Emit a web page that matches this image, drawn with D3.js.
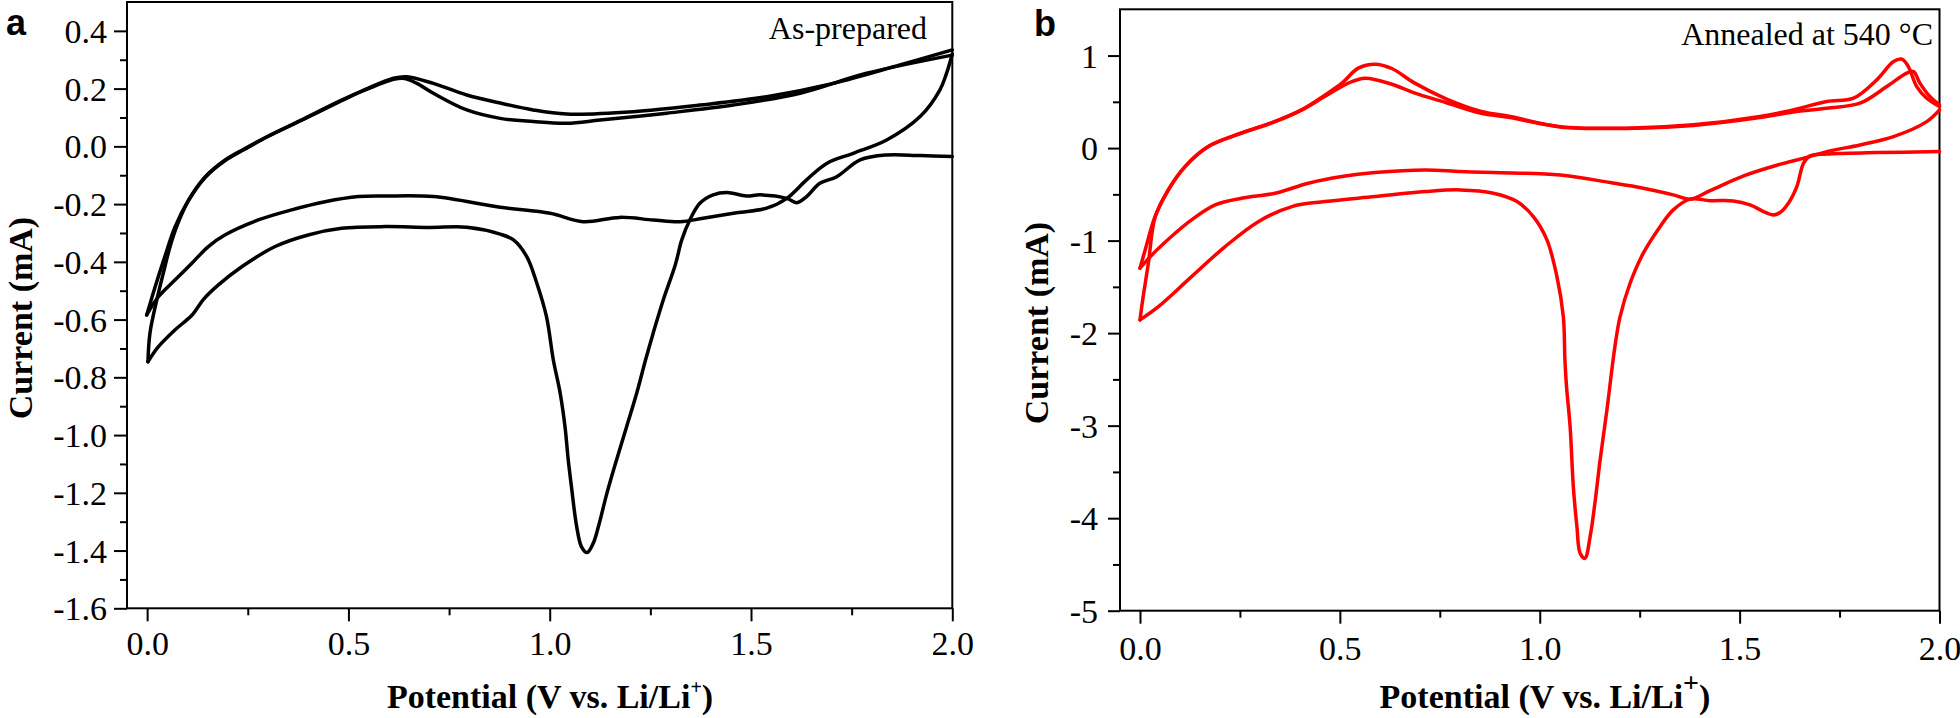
<!DOCTYPE html>
<html>
<head>
<meta charset="utf-8">
<script src="https://cdn.jsdelivr.net/npm/d3@7"></script>
<style>
  html, body { margin: 0; padding: 0; background: #fff; }
  svg { display: block; }
</style>
</head>
<body>
<svg id="chart" width="1960" height="718"></svg>
<script>
// ---------------- DATA (Potential V vs. Li/Li+, Current mA) ----------------
// Panel a : As-prepared
const aCathodic1 = [[2.0,-0.035],[1.92,-0.032],[1.837,-0.030],[1.771,-0.047],[1.713,-0.105],[1.671,-0.128],[1.638,-0.174],[1.614,-0.195],[1.589,-0.180],[1.523,-0.168],[1.489,-0.172],[1.440,-0.160],[1.406,-0.168],[1.373,-0.197],[1.348,-0.255],[1.328,-0.324],[1.312,-0.410],[1.282,-0.532],[1.257,-0.647],[1.238,-0.740],[1.216,-0.855],[1.191,-0.971],[1.166,-1.086],[1.142,-1.202],[1.121,-1.317],[1.108,-1.375],[1.093,-1.407],[1.079,-1.387],[1.067,-1.317],[1.054,-1.179],[1.046,-1.086],[1.038,-0.971],[1.026,-0.855],[1.009,-0.740],[0.992,-0.590],[0.968,-0.474],[0.943,-0.382],[0.910,-0.324],[0.877,-0.304],[0.794,-0.280],[0.70,-0.281],[0.591,-0.278],[0.483,-0.284],[0.400,-0.307],[0.318,-0.347],[0.235,-0.417],[0.177,-0.480],[0.140,-0.530],[0.111,-0.585],[0.069,-0.636],[0.028,-0.694],[0.002,-0.746]];
const aAnodic1 = [[0.002,-0.746],[0.007,-0.647],[0.024,-0.532],[0.040,-0.440],[0.057,-0.347],[0.075,-0.272],[0.102,-0.190],[0.144,-0.108],[0.193,-0.050],[0.240,-0.012],[0.300,0.034],[0.380,0.088],[0.483,0.158],[0.545,0.199],[0.612,0.236],[0.645,0.241],[0.711,0.218],[0.794,0.178],[0.877,0.150],[0.959,0.126],[1.042,0.112],[1.208,0.120],[1.373,0.143],[1.539,0.172],[1.704,0.218],[1.870,0.282],[2.0,0.334]];
const aCathodic2 = [[2.0,0.320],[1.985,0.250],[1.969,0.195],[1.920,0.103],[1.837,0.022],[1.754,-0.024],[1.688,-0.059],[1.638,-0.116],[1.589,-0.180],[1.539,-0.214],[1.464,-0.230],[1.381,-0.249],[1.324,-0.261],[1.257,-0.255],[1.174,-0.246],[1.083,-0.261],[1.001,-0.232],[0.877,-0.211],[0.711,-0.174],[0.591,-0.172],[0.525,-0.174],[0.442,-0.192],[0.359,-0.220],[0.276,-0.255],[0.193,-0.307],[0.152,-0.347],[0.111,-0.405],[0.069,-0.463],[0.028,-0.521],[-0.001,-0.584]];
const aAnodic2 = [[-0.001,-0.584],[0.020,-0.486],[0.044,-0.382],[0.069,-0.280],[0.102,-0.188],[0.144,-0.106],[0.193,-0.048],[0.240,-0.010],[0.300,0.035],[0.380,0.089],[0.483,0.160],[0.545,0.197],[0.612,0.232],[0.640,0.235],[0.670,0.218],[0.711,0.184],[0.794,0.126],[0.877,0.097],[0.959,0.086],[1.042,0.080],[1.125,0.091],[1.291,0.115],[1.456,0.143],[1.622,0.184],[1.787,0.253],[2.0,0.316]];

// Panel b : Annealed at 540 °C
const bCathodic1 = [[2.0,-0.038],[1.843,-0.049],[1.718,-0.063],[1.676,-0.084],[1.660,-0.163],[1.643,-0.416],[1.622,-0.596],[1.601,-0.697],[1.585,-0.722],[1.560,-0.686],[1.526,-0.614],[1.484,-0.571],[1.426,-0.568],[1.376,-0.552],[1.334,-0.668],[1.301,-0.849],[1.259,-1.136],[1.226,-1.461],[1.201,-1.822],[1.188,-2.146],[1.168,-2.830],[1.151,-3.371],[1.139,-3.803],[1.126,-4.200],[1.113,-4.434],[1.101,-4.379],[1.093,-4.092],[1.084,-3.659],[1.076,-3.011],[1.067,-2.578],[1.063,-2.289],[1.059,-1.822],[1.043,-1.389],[1.018,-0.992],[0.984,-0.740],[0.943,-0.578],[0.884,-0.488],[0.801,-0.452],[0.713,-0.470],[0.588,-0.524],[0.463,-0.578],[0.380,-0.632],[0.296,-0.795],[0.213,-1.065],[0.129,-1.389],[0.046,-1.714],[0.0,-1.857]];
const bAnodic1 = [[0.0,-1.857],[0.008,-1.605],[0.021,-1.244],[0.038,-0.745],[0.071,-0.452],[0.113,-0.200],[0.171,0.016],[0.254,0.161],[0.338,0.286],[0.404,0.413],[0.463,0.575],[0.505,0.702],[0.546,0.864],[0.588,0.907],[0.630,0.860],[0.684,0.710],[0.767,0.530],[0.851,0.400],[0.926,0.341],[1.051,0.232],[1.218,0.215],[1.384,0.251],[1.551,0.341],[1.634,0.413],[1.718,0.503],[1.785,0.539],[1.843,0.737],[1.885,0.935],[1.906,0.961],[1.922,0.881],[1.943,0.665],[1.968,0.539],[2.0,0.449]];
const bCathodic2 = [[2.0,0.413],[1.968,0.286],[1.885,0.124],[1.801,0.034],[1.718,-0.038],[1.668,-0.100],[1.593,-0.185],[1.510,-0.300],[1.426,-0.460],[1.376,-0.552],[1.334,-0.506],[1.259,-0.434],[1.176,-0.373],[1.051,-0.290],[0.884,-0.265],[0.801,-0.254],[0.713,-0.236],[0.588,-0.265],[0.505,-0.308],[0.421,-0.380],[0.338,-0.488],[0.254,-0.542],[0.188,-0.614],[0.129,-0.776],[0.088,-0.920],[0.038,-1.119],[0.0,-1.298]];
const bAnodic2 = [[0.0,-1.298],[0.013,-1.100],[0.038,-0.735],[0.071,-0.450],[0.113,-0.198],[0.171,0.018],[0.254,0.163],[0.338,0.288],[0.404,0.410],[0.463,0.560],[0.520,0.700],[0.563,0.756],[0.630,0.690],[0.684,0.600],[0.767,0.490],[0.851,0.380],[0.926,0.330],[1.051,0.228],[1.218,0.212],[1.384,0.245],[1.551,0.330],[1.634,0.390],[1.718,0.431],[1.801,0.485],[1.868,0.665],[1.918,0.810],[1.935,0.827],[1.951,0.702],[1.976,0.557],[2.0,0.467]];

// Tick values
const xTicks = [0.0, 0.5, 1.0, 1.5, 2.0];
const xMinorTicks = [0.25, 0.75, 1.25, 1.75];
const aYTicks = [0.4, 0.2, 0.0, -0.2, -0.4, -0.6, -0.8, -1.0, -1.2, -1.4, -1.6];
const aYMinorTicks = [0.3, 0.1, -0.1, -0.3, -0.5, -0.7, -0.9, -1.1, -1.3, -1.5];
const bYTicks = [1, 0, -1, -2, -3, -4, -5];
const bYMinorTicks = [0.5, -0.5, -1.5, -2.5, -3.5, -4.5];

// ---------------- DRAWING ----------------
const svg = d3.select("#chart");
svg.append("rect").attr("width", 1960).attr("height", 718).attr("fill", "#fff");

const SERIF = "'Liberation Serif', 'Times New Roman', serif";
const SANS = "'Liberation Sans', Arial, sans-serif";

function panel(cfg) {
  const g = svg.append("g");
  const x = d3.scaleLinear().domain(cfg.xDomain).range(cfg.xRange);
  const y = d3.scaleLinear().domain(cfg.yDomain).range(cfg.yRange);
  const [x0, x1] = cfg.xRange;
  const [yb, yt] = cfg.yRange;

  // frame
  g.append("rect").attr("x", x0).attr("y", yt).attr("width", x1 - x0).attr("height", yb - yt)
    .attr("fill", "none").attr("stroke", "#000").attr("stroke-width", 2);

  // curves
  const line = d3.line().x(d => x(d[0])).y(d => y(d[1])).curve(d3.curveCatmullRom.alpha(0.5));
  cfg.series.forEach(s => {
    g.append("path").datum(s).attr("d", line).attr("fill", "none")
      .attr("stroke", cfg.color).attr("stroke-width", 3.5)
      .attr("stroke-linejoin", "round").attr("stroke-linecap", "round");
  });

  // axes
  const xAxis = g.append("g").attr("transform", `translate(0,${yb})`)
    .call(d3.axisBottom(x).tickValues(xTicks).tickSize(13).tickPadding(cfg.xPad)
      .tickFormat(d => d.toFixed(1)));
  const xMinor = g.append("g").attr("transform", `translate(0,${yb})`)
    .call(d3.axisBottom(x).tickValues(xMinorTicks).tickSize(7).tickFormat(""));
  const yAxis = g.append("g").attr("transform", `translate(${x0},0)`)
    .call(d3.axisLeft(y).tickValues(cfg.yTicks).tickSize(cfg.yTick).tickPadding(cfg.yPad)
      .tickFormat(cfg.yFmt));
  const yMinor = g.append("g").attr("transform", `translate(${x0},0)`)
    .call(d3.axisLeft(y).tickValues(cfg.yMinor).tickSize(7).tickFormat(""));

  [xAxis, xMinor, yAxis, yMinor].forEach(a => {
    a.select(".domain").remove();
    a.selectAll(".tick line").attr("stroke", "#000").attr("stroke-width", 2);
    a.selectAll("text").attr("font-family", SERIF).attr("font-size", 34).attr("fill", "#000");
  });
  xAxis.selectAll("text").attr("dy", "0.71em");
  yAxis.selectAll("text").attr("dy", "0.34em");

  // axis titles
  const xt = g.append("text").attr("x", cfg.xTitleX).attr("y", 708)
    .attr("text-anchor", "middle").attr("font-family", SERIF).attr("font-weight", "bold")
    .attr("font-size", 34).attr("fill", "#000");
  xt.append("tspan").text("Potential (V vs. Li/Li");
  xt.append("tspan").attr("font-size", cfg.supSize).attr("dy", cfg.supDy).text("+");
  xt.append("tspan").attr("dy", -cfg.supDy).text(")");

  g.append("text").attr("transform", `translate(${cfg.yTitleX},${cfg.yTitleY}) rotate(-90)`)
    .attr("text-anchor", "middle").attr("font-family", SERIF).attr("font-weight", "bold")
    .attr("font-size", 34).attr("fill", "#000").text("Current (mA)");

  // panel letter
  g.append("text").attr("x", cfg.letterX).attr("y", cfg.letterY)
    .attr("font-family", SANS).attr("font-weight", "bold").attr("font-size", 36)
    .attr("fill", "#000").text(cfg.letter);

  // annotation
  g.append("text").attr("x", cfg.noteX).attr("y", cfg.noteY).attr("text-anchor", "end")
    .attr("font-family", SERIF).attr("font-size", 32).attr("fill", "#000").text(cfg.note);
}

panel({
  xDomain: [-0.05, 2.0], xRange: [127, 952.3],
  yDomain: [-1.6, 0.5], yRange: [608.3, 2],
  yTicks: aYTicks, yMinor: aYMinorTicks, yFmt: d => d.toFixed(1),
  yTick: 13, yPad: 7, xPad: 10,
  series: [aCathodic1, aAnodic1, aCathodic2, aAnodic2], color: "#000",
  xTitleX: 550, yTitleX: 32, yTitleY: 318, supSize: 20, supDy: -14,
  letter: "a", letterX: 6, letterY: 35,
  note: "As-prepared", noteX: 927, noteY: 39
});

panel({
  xDomain: [-0.05, 2.0], xRange: [1120, 1939.5],
  yDomain: [-5, 1.5], yRange: [610.7, 9.3],
  yTicks: bYTicks, yMinor: bYMinorTicks, yFmt: d => String(d),
  yTick: 12, yPad: 10, xPad: 12,
  series: [bCathodic1, bAnodic1, bCathodic2, bAnodic2], color: "#ff0000",
  xTitleX: 1545, yTitleX: 1048, yTitleY: 323, supSize: 28, supDy: -16,
  letter: "b", letterX: 1034, letterY: 36,
  note: "Annealed at 540 \u00B0C", noteX: 1933, noteY: 45
});
</script>
</body>
</html>
